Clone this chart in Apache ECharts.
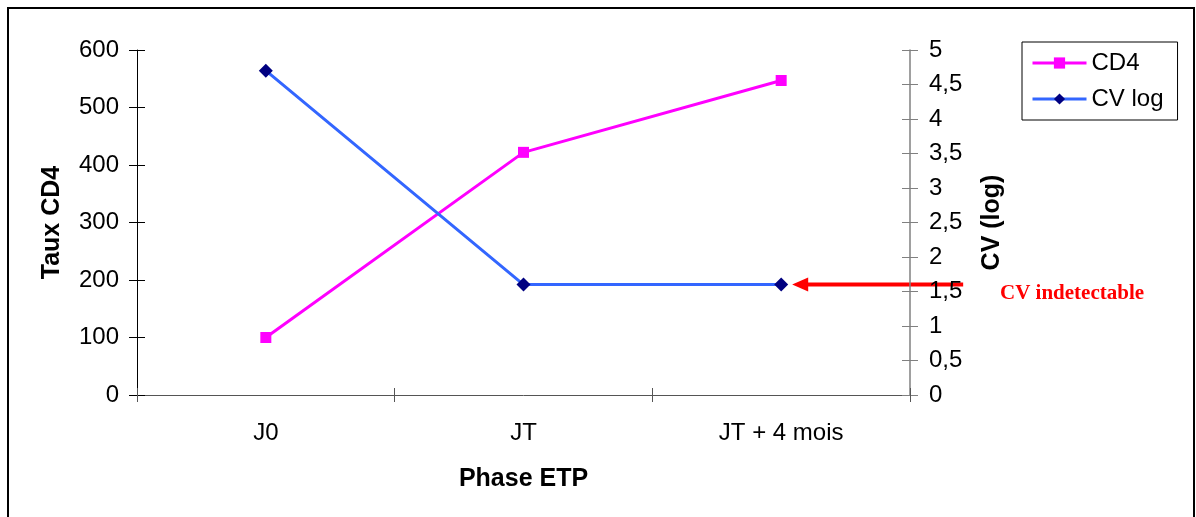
<!DOCTYPE html>
<html>
<head>
<meta charset="utf-8">
<script src="https://cdn.jsdelivr.net/npm/echarts@6/dist/echarts.min.js"></script>
<style>
  html, body { margin: 0; padding: 0; background: #fff; }
  #chart { width: 1196px; height: 517px; }
</style>
</head>
<body>
<div id="chart"></div>
<script>
// données
var phases = ['J0', 'JT', 'JT + 4 mois'];
var cd4 = [100, 422, 547];
var cvLog = [4.7, 1.6, 1.6];
var cd4Ticks = { min: 0, max: 600, interval: 100 };
var cvTicks = { min: 0, max: 5, interval: 0.5 };

var font = 'Liberation Sans, Arial, sans-serif';
var myChart = echarts.init(document.getElementById('chart'));

// axe "fantôme" pour que les graduations traversent l'axe (comme Excel)
function tickOverlay(base, inside, color) {
	return {
		type: 'value',
		position: base.position,
		min: base.min,
		max: base.max,
		interval: base.interval,
		axisLine: { show: false },
		axisTick: { show: true, inside: inside, length: 8, lineStyle: { color: color } },
		axisLabel: { show: false },
		splitLine: { show: false }
	};
}

var yLeft = {
	type: 'value',
	position: 'left',
	min: cd4Ticks.min,
	max: cd4Ticks.max,
	interval: cd4Ticks.interval,
	name: 'Taux CD4',
	nameLocation: 'middle',
	nameGap: 72,
	nameRotate: 90,
	nameTextStyle: { fontSize: 25, fontWeight: 'bold', color: '#000' },
	axisLine: { show: true, lineStyle: { color: '#000', width: 1 } },
	axisTick: { show: true, length: 8, lineStyle: { color: '#000' } },
	axisLabel: { fontSize: 24, color: '#000', margin: 18 },
	splitLine: { show: false }
};

var yRight = {
	type: 'value',
	position: 'right',
	min: cvTicks.min,
	max: cvTicks.max,
	interval: cvTicks.interval,
	name: 'CV (log)',
	nameLocation: 'middle',
	nameGap: 70,
	nameRotate: 90,
	nameTextStyle: { fontSize: 25, fontWeight: 'bold', color: '#000' },
	axisLine: { show: true, lineStyle: { color: '#808080', width: 1.5 } },
	axisTick: { show: true, length: 8, lineStyle: { color: '#808080' } },
	axisLabel: {
		fontSize: 24,
		color: '#000',
		margin: 19,
		formatter: function (v) { return String(v).replace('.', ','); }
	},
	splitLine: { show: false }
};

var option = {
	animation: false,
	backgroundColor: '#fff',
	textStyle: { fontFamily: font },
	grid: { left: 137, right: 286, top: 50, bottom: 122 },
	legend: {
		orient: 'vertical',
		left: 1022,
		top: 42,
		padding: [9, 14, 9, 9],
		itemGap: 12,
		itemWidth: 54,
		itemHeight: 14,
		borderColor: '#000',
		borderWidth: 1,
		textStyle: { fontSize: 24, color: '#000', fontFamily: font },
		data: [
			{ name: 'CD4', lineStyle: { width: 3 } },
			{ name: 'CV log', lineStyle: { width: 3 } }
		]
	},
	xAxis: [
		{
			type: 'category',
			data: phases,
			name: 'Phase ETP',
			nameLocation: 'middle',
			nameGap: 72,
			nameTextStyle: { fontSize: 25, fontWeight: 'bold', color: '#000' },
			axisLine: { lineStyle: { color: '#555', width: 1 } },
			axisTick: { show: true, length: 7, lineStyle: { color: '#555' } },
			axisLabel: { fontSize: 24, color: '#000', margin: 26 },
			splitLine: { show: false }
		},
		{
			type: 'category',
			data: phases,
			position: 'bottom',
			axisLine: { show: false },
			axisTick: { show: true, inside: true, length: 7, lineStyle: { color: '#555' } },
			axisLabel: { show: false },
			splitLine: { show: false }
		}
	],
	yAxis: [
		yLeft,
		yRight,
		tickOverlay(yLeft, true, '#000'),
		tickOverlay(yRight, true, '#808080')
	],
	series: [
		{
			name: 'CD4',
			type: 'line',
			yAxisIndex: 0,
			data: cd4,
			symbol: 'rect',
			symbolSize: 11,
			color: '#ff00ff',
			lineStyle: { color: '#ff00ff', width: 3 },
			itemStyle: { color: '#ff00ff' },
			z: 3
		},
		{
			name: 'CV log',
			type: 'line',
			yAxisIndex: 1,
			data: cvLog,
			symbol: 'diamond',
			symbolSize: 14,
			color: '#3366ff',
			lineStyle: { color: '#3366ff', width: 3 },
			itemStyle: { color: '#000080' },
			z: 3
		}
	]
};
myChart.setOption(option);

// flèche "CV indetectable" ancrée sur le dernier point CV
var tip = myChart.convertToPixel({ xAxisIndex: 0, yAxisIndex: 1 }, [phases.length - 1, cvLog[cvLog.length - 1]]);
var ax = tip[0] + 11, ay = tip[1];
myChart.setOption({
	graphic: [
		{
			type: 'rect',
			shape: { x: 8, y: 8, width: 1186, height: 540 },
			style: { fill: 'none', stroke: '#000', lineWidth: 2 },
			silent: true
		},
		{
			type: 'line',
			shape: { x1: ax + 12, y1: ay, x2: ax + 171, y2: ay },
			style: { stroke: '#ff0000', lineWidth: 4 }
		},
		{
			type: 'polygon',
			shape: { points: [[ax, ay], [ax + 16, ay - 7], [ax + 16, ay + 7]] },
			style: { fill: '#ff0000' }
		},
		{
			type: 'text',
			x: 1000,
			y: 294,
			style: {
				text: 'CV indetectable',
				fill: '#ff0000',
				font: 'bold 21px "Liberation Serif", "Times New Roman", serif',
				verticalAlign: 'middle'
			}
		}
	]
});
</script>
</body>
</html>
